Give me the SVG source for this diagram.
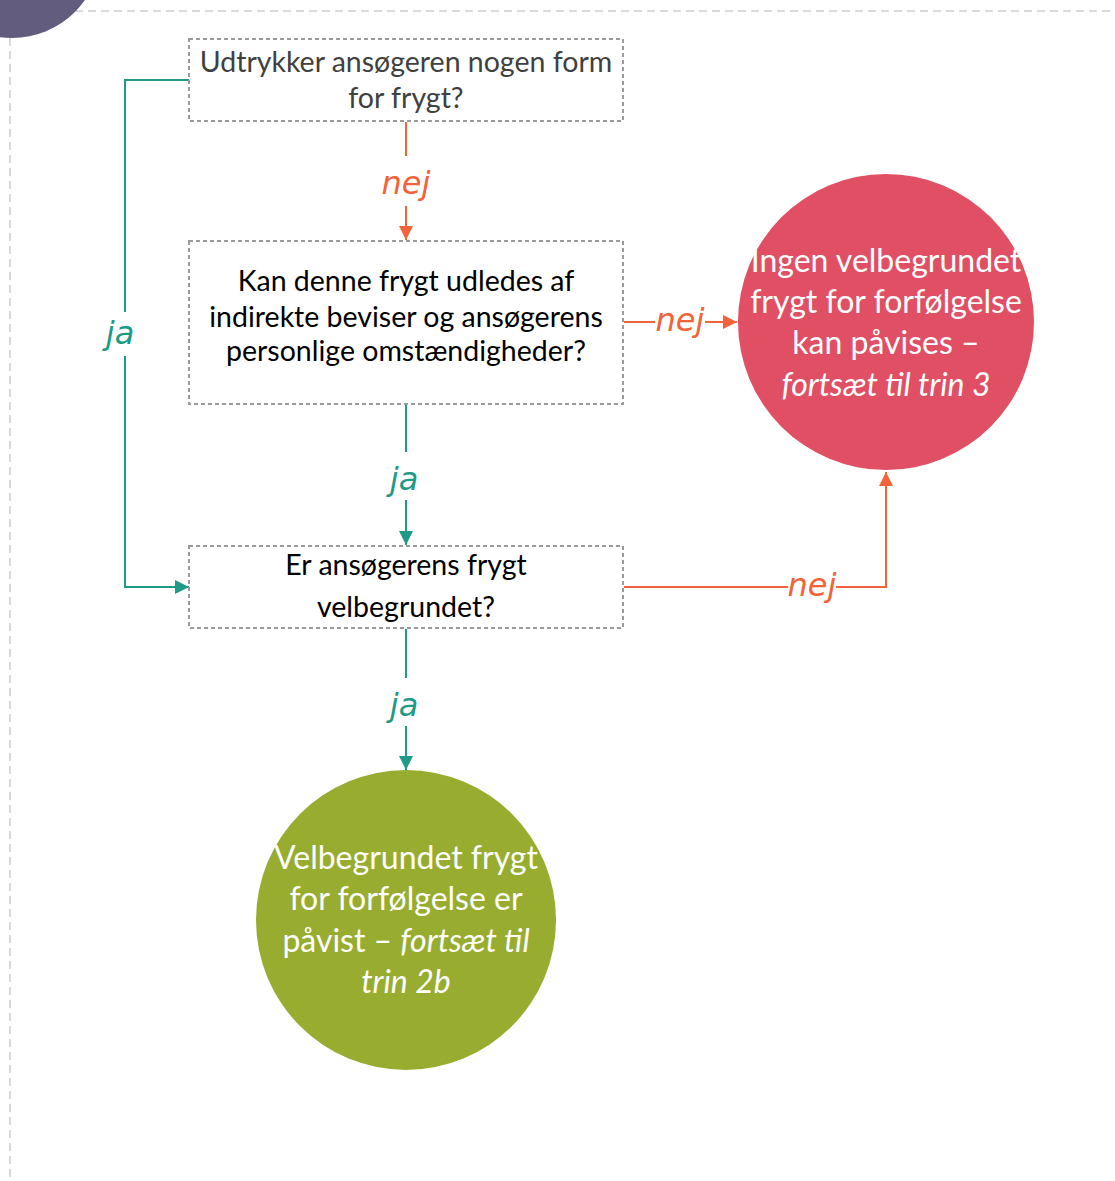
<svg xmlns="http://www.w3.org/2000/svg" width="1115" height="1181" viewBox="0 0 1115 1181">
<style>
.frame{fill:none;stroke:#d9d9d9;stroke-width:2;stroke-dasharray:8 5}
.box{fill:#fff;stroke:#9a9a9a;stroke-width:2;stroke-dasharray:4 3}
.t{font-family:Lato,"Open Sans",sans-serif;font-size:28.5px;text-anchor:middle;fill:#000}
.c{font-family:Lato,"Open Sans",sans-serif;font-size:32px;text-anchor:middle;fill:#fff}
.o{fill:none;stroke:#f26339;stroke-width:2}
.g{fill:none;stroke:#1f9a87;stroke-width:2}
.lo{font-family:"DejaVu Sans",sans-serif;font-style:italic;font-size:32px;fill:#f26339;text-anchor:middle}
.lg{font-family:"DejaVu Sans",sans-serif;font-style:italic;font-size:32px;fill:#1f9a87;text-anchor:middle}
</style>
<defs>
<marker id="ao" markerWidth="14" markerHeight="14" refX="14" refY="7" orient="auto" markerUnits="userSpaceOnUse" viewBox="0 0 14 14"><path d="M0,0 L14,7 L0,14 z" fill="#f26339"/></marker>
<marker id="ag" markerWidth="14" markerHeight="14" refX="14" refY="7" orient="auto" markerUnits="userSpaceOnUse" viewBox="0 0 14 14"><path d="M0,0 L14,7 L0,14 z" fill="#1f9a87"/></marker>
</defs>
<rect width="1115" height="1181" fill="#fff"/>
<path class="frame" d="M75,11 H1115 M10,38 V1181"/>
<circle cx="12" cy="-51" r="89" fill="#625c7e"/>
<g id="connectors">
<path class="o" d="M406,122 V156"/>
<path class="o" d="M406,206 V240" marker-end="url(#ao)"/>
<text class="lo" x="406" y="194">nej</text>
<path class="o" d="M624,322 H655"/>
<path class="o" d="M705,322 H737" marker-end="url(#ao)"/>
<text class="lo" x="680" y="331">nej</text>
<path class="o" d="M624,587 H788"/>
<path class="o" d="M836,587 H886 V472" marker-end="url(#ao)"/>
<text class="lo" x="812" y="596">nej</text>
<path class="g" d="M189,80 H125 V312"/>
<path class="g" d="M125,356 V587 H189" marker-end="url(#ag)"/>
<text class="lg" x="120" y="344">ja</text>
<path class="g" d="M406,405 V452"/>
<path class="g" d="M406,500 V545" marker-end="url(#ag)"/>
<text class="lg" x="404" y="490">ja</text>
<path class="g" d="M406,629 V678"/>
<path class="g" d="M406,726 V770" marker-end="url(#ag)"/>
<text class="lg" x="404" y="716">ja</text>
</g>
<g id="n1">
<rect class="box" x="189" y="39" width="434" height="82"/>
<text class="t" x="406" y="72" style="fill:#404040">Udtrykker ansøgeren nogen form</text>
<text class="t" x="406" y="108" style="fill:#404040">for frygt?</text>
</g>
<g id="n2">
<rect class="box" x="189" y="241" width="434" height="163"/>
<text class="t" x="406" y="291">Kan denne frygt udledes af</text>
<text class="t" x="406" y="327">indirekte beviser og ansøgerens</text>
<text class="t" x="406" y="361">personlige omstændigheder?</text>
</g>
<g id="n3">
<rect class="box" x="189" y="546" width="434" height="82"/>
<text class="t" x="406" y="575">Er ansøgerens frygt</text>
<text class="t" x="406" y="617">velbegrundet?</text>
</g>
<g id="n4">
<circle cx="886" cy="322" r="148" fill="#e04f64"/>
<text class="c" x="886" y="272">Ingen velbegrundet</text>
<text class="c" x="886" y="313">frygt for forfølgelse</text>
<text class="c" x="886" y="354">kan påvises –</text>
<text class="c" x="886" y="396" font-style="italic">fortsæt til trin 3</text>
</g>
<g id="n5">
<circle cx="406" cy="920" r="150" fill="#98ad2f"/>
<text class="c" x="406" y="869">Velbegrundet frygt</text>
<text class="c" x="406" y="910">for forfølgelse er</text>
<text class="c" x="406" y="952">påvist – <tspan font-style="italic">fortsæt til</tspan></text>
<text class="c" x="406" y="993" font-style="italic">trin 2b</text>
</g>
</svg>
